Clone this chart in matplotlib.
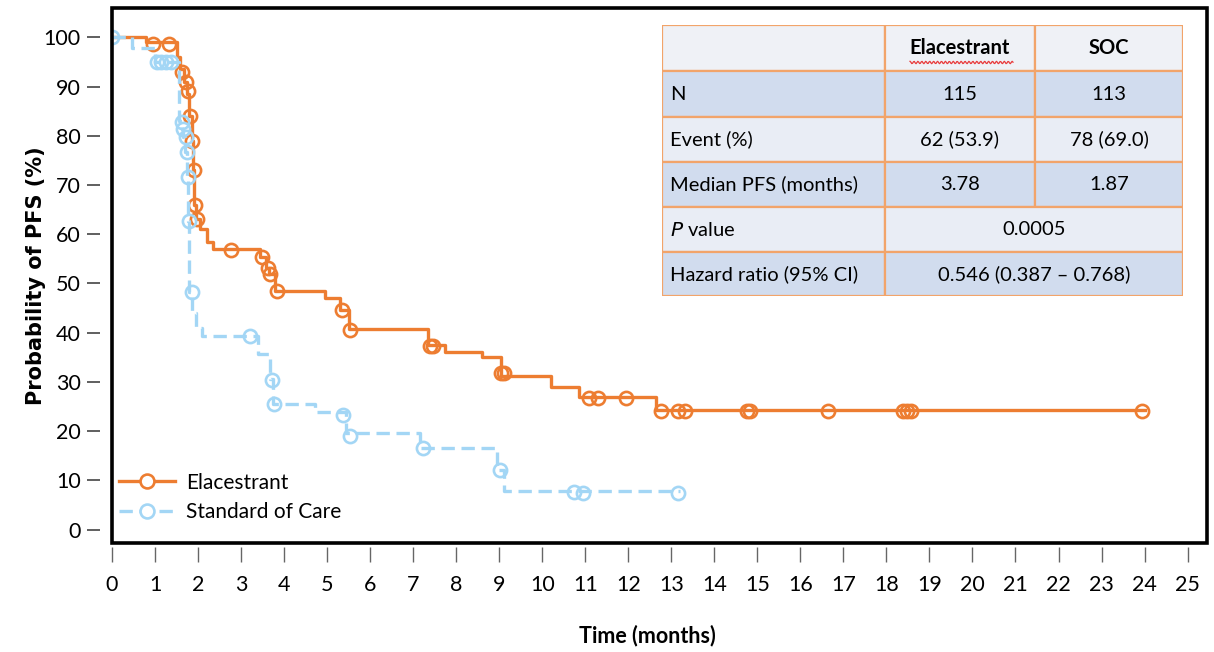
import numpy as np
import matplotlib
matplotlib.use("Agg")
import matplotlib.pyplot as plt
from matplotlib.patches import Rectangle

# Kaplan-Meier steps (months, % PFS)
ela_t = [0, 0.8, 1.5, 1.58, 1.68, 1.75, 1.8, 1.85, 1.88, 1.91, 1.96, 2.05, 2.2, 2.35,
         3.45, 3.58, 3.66, 3.8, 4.95, 5.3, 5.5, 7.35, 7.75, 8.6, 9.05, 10.2, 10.85, 12.65, 24.0]
ela_s = [100, 99, 96, 93.5, 91, 88.5, 84, 79, 73, 66, 63, 61, 58.5, 57,
         55.3, 53.2, 52, 48.5, 47, 44.5, 40.7, 37.5, 36.1, 35, 31.2, 29, 27, 24.3, 24.3]
ela_cens_t = [0.95, 1.33, 1.63, 1.72, 1.77, 1.82, 1.86, 1.9, 1.92, 1.97, 2.77, 3.49, 3.63, 3.68,
              3.84, 5.35, 5.54, 7.4, 7.45, 9.05, 9.1, 11.08, 11.29, 11.94, 12.76, 13.15, 13.31,
              14.75, 14.82, 16.64, 18.38, 18.47, 18.57, 23.95]
ela_cens_s = [98.7, 98.7, 93, 91, 89, 84, 79, 73, 66, 63, 56.8, 55.3, 53.2, 52,
              48.5, 44.5, 40.5, 37.3, 37.3, 31.8, 31.8, 26.8, 26.8, 26.8, 24, 24, 24,
              24, 24, 24, 24, 24, 24, 24]

soc_t = [0, 0.47, 1.0, 1.55, 1.62, 1.65, 1.7, 1.74, 1.77, 1.79, 1.85, 1.95, 2.1, 3.4, 3.68,
         3.75, 4.72, 5.45, 7.15, 8.95, 9.1, 13.2]
soc_s = [100, 97.8, 95, 83, 81.3, 79.7, 76.7, 71.6, 62.7, 48.3, 44, 41, 39.3, 35.7, 30.6,
         25.6, 23.9, 19.7, 16.6, 12, 7.9, 7.9]
soc_cens_t = [0, 1.05, 1.15, 1.25, 1.38, 1.63, 1.65, 1.72, 1.75, 1.77, 1.79, 1.86, 3.21,
              3.72, 3.77, 5.38, 5.54, 7.22, 9.03, 10.73, 10.94, 13.15]
soc_cens_s = [100, 95, 95, 95, 95, 82.8, 81.3, 79.7, 76.7, 71.6, 62.7, 48.3, 39.3,
              30.3, 25.6, 23.3, 18.9, 16.6, 12, 7.6, 7.5, 7.5]

# summary table
col_head = ["", "Elacestrant", "SOC"]
row_names = ["N", "Event (%)", "Median PFS (months)", "$\\mathit{P}$ value", "Hazard ratio (95% CI)"]
ela_vals = ["115", "62 (53.9)", "3.78"]
soc_vals = ["113", "78 (69.0)", "1.87"]
p_value = "0.0005"
hazard = "0.546 (0.387 \u2013 0.768)"

orange = "#ED7D31"
blue = "#A3D6F5"
font = "Lato"

fig = plt.figure(figsize=(12.14, 6.52), dpi=100)
W, H = 1214, 652
ax = fig.add_axes([112 / W, 1 - 543 / H, (1206.5 - 112) / W, (543 - 7.5) / H])

ax.plot(ela_t, ela_s, drawstyle="steps-post", color=orange, lw=2.4, zorder=3)
ax.plot(ela_cens_t, ela_cens_s, ls="none", marker="o", ms=9.5, mfc="none",
        mec=orange, mew=1.9, zorder=3)
ax.plot(soc_t, soc_s, drawstyle="steps-post", color=blue, lw=2.4, dashes=(4, 2), zorder=4)
ax.plot(soc_cens_t, soc_cens_s, ls="none", marker="o", ms=9.5, mfc="none",
        mec=blue, mew=1.9, zorder=4)

# legend proxies
h1, = ax.plot([], [], color=orange, lw=2.4, marker="o", ms=10, mfc="white", mec=orange, mew=1.9)
h2, = ax.plot([], [], color=blue, lw=2.4, dashes=(4, 2), marker="o", ms=10, mfc="white",
              mec=blue, mew=1.9)
leg = ax.legend([h1, h2], ["Elacestrant", "Standard of Care"], loc="center left",
                bbox_to_anchor=(0.006, 0.0855), frameon=False, numpoints=1,
                handlelength=2.7, handletextpad=0.55, labelspacing=0.45,
                borderpad=0, borderaxespad=0, prop={"family": font, "size": 15})

ax.set_xlim(0, 25.44)
ax.set_ylim(-2.74, 106.05)
ax.set_xticks(range(0, 26))
ax.set_yticks(range(0, 101, 10))

for s in ax.spines.values():
    s.set_visible(False)
ax.spines["left"].set_position(("outward", 9))
ax.spines["bottom"].set_position(("outward", 3))
ax.add_patch(Rectangle((0, 0), 1, 1, transform=ax.transAxes, fill=False,
                       ec="black", lw=2.6, clip_on=False, zorder=5))
ax.tick_params(axis="y", length=9.5, width=1.2, color="#444444", pad=4, labelsize=15.5)
ax.tick_params(axis="x", length=11, width=1.0, color="#666666", pad=9, labelsize=15.5)
for lab in ax.get_xticklabels() + ax.get_yticklabels():
    lab.set_fontfamily(font)

ax.set_ylabel("Probability of PFS (%)", fontsize=15, fontweight="bold", family="DejaVu Sans")
ax.yaxis.set_label_coords(-0.0694, 0.5)
ax.yaxis.label.set_va("center")
ax.set_xlabel("Time (months)", fontsize=15.5, fontweight="bold", family=font)
ax.xaxis.set_label_coords(0.489, -0.172)
ax.xaxis.label.set_va("center")

# table drawn in its own pixel-space axes
tx0, ty0, tx1, ty1 = 662, 25, 1183, 296
tab = fig.add_axes([tx0 / W, 1 - ty1 / H, (tx1 - tx0) / W, (ty1 - ty0) / H])
tab.set_xlim(tx0, tx1)
tab.set_ylim(ty1, ty0)
tab.axis("off")
cols = [662, 885, 1035, 1183]
rows = [25, 71, 117, 162, 207, 252, 296]
fills = ["#EFF1F6", "#D1DCEE", "#E9EDF5", "#D1DCEE", "#E9EDF5", "#D1DCEE"]
edge = "#F2A46A"
tsize = 14.5

for r in range(6):
    y0, y1 = rows[r], rows[r + 1]
    cy = (y0 + y1) / 2
    if r <= 3:
        spans = [(cols[0], cols[1]), (cols[1], cols[2]), (cols[2], cols[3])]
    else:
        spans = [(cols[0], cols[1]), (cols[1], cols[3])]
    for x0, x1 in spans:
        tab.add_patch(Rectangle((x0, y0), x1 - x0, y1 - y0, fc=fills[r], ec=edge, lw=1.6))
    if r == 0:
        for c in range(1, 3):
            tab.text((cols[c] + cols[c + 1]) / 2, cy, col_head[c], ha="center", va="center",
                     fontsize=tsize, fontweight="bold", family=font)
    else:
        tab.text(cols[0] + 8, cy, row_names[r - 1], ha="left", va="center",
                 fontsize=tsize, family=font)
        if r <= 3:
            tab.text((cols[1] + cols[2]) / 2, cy, ela_vals[r - 1], ha="center", va="center",
                     fontsize=tsize, family=font)
            tab.text((cols[2] + cols[3]) / 2, cy, soc_vals[r - 1], ha="center", va="center",
                     fontsize=tsize, family=font)
        else:
            val = p_value if r == 4 else hazard
            tab.text((cols[1] + cols[3]) / 2, cy, val, ha="center", va="center",
                     fontsize=tsize, family=font)

# spell-check squiggle under the header word
wx = np.linspace(910, 1013, 120)
tab.plot(wx, 62.5 + 1.2 * np.sin(wx * 1.6), color="#E8393A", lw=0.9)

fig.savefig("out.png", dpi=100)
